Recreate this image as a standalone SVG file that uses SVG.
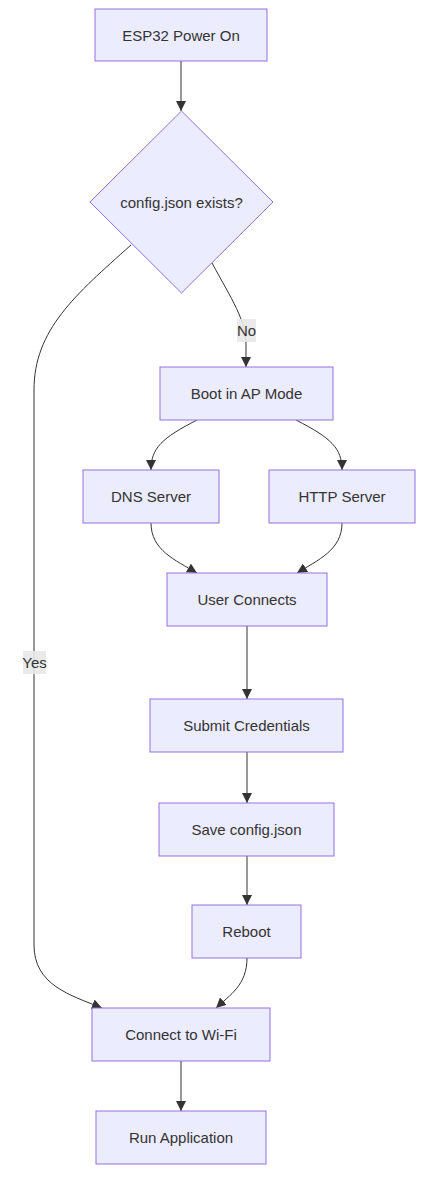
<svg xmlns="http://www.w3.org/2000/svg" width="433" height="1177" viewBox="0 0 433 1177">
<style>
.node rect,.node polygon{fill:#ECECFF;stroke:#9370DB;stroke-width:1}
.node text{font-family:"Trebuchet MS","Liberation Sans",Arial,sans-serif;font-size:15px;fill:#333;text-anchor:middle;dominant-baseline:central}
.edge{fill:none;stroke:#333;stroke-width:1}
.lblbg{fill:#e8e8e8;opacity:0.9}
.lbl{font-family:"Trebuchet MS","Liberation Sans",Arial,sans-serif;font-size:15px;fill:#333;text-anchor:middle;dominant-baseline:central}
</style>
<defs>
<marker id="arr" viewBox="0 0 10 10" refX="10" refY="5" markerWidth="10" markerHeight="10" markerUnits="userSpaceOnUse" orient="auto">
<path d="M0,0 L10,5 L0,10 z" fill="#333"/>
</marker>
</defs>
<rect width="433" height="1177" fill="#fff"/>
<g id="connectors">
<path class="edge" marker-end="url(#arr)" d="M181,61 L181,111"/>
<path class="edge" marker-end="url(#arr)" d="M212,263 C232,300 246,320 246,345 L246,367"/>
<path class="edge" marker-end="url(#arr)" d="M131,245 C75,295 34,330 34,390 L34,945 C34,985 70,995 102,1008"/>
<path class="edge" marker-end="url(#arr)" d="M197,420 C162,438 151,448 151,470"/>
<path class="edge" marker-end="url(#arr)" d="M296,420 C331,438 342,448 342,470"/>
<path class="edge" marker-end="url(#arr)" d="M151,523 C151,550 175,560 197,573"/>
<path class="edge" marker-end="url(#arr)" d="M342,523 C342,550 318,560 297,573"/>
<path class="edge" marker-end="url(#arr)" d="M247,626 L247,699"/>
<path class="edge" marker-end="url(#arr)" d="M247,752 L247,803"/>
<path class="edge" marker-end="url(#arr)" d="M247,856 L247,905"/>
<path class="edge" marker-end="url(#arr)" d="M247,958 C247,985 230,995 216,1008"/>
<path class="edge" marker-end="url(#arr)" d="M181,1061 L181,1111"/>
<rect class="lblbg" x="237" y="319" width="19" height="23"/>
<text class="lbl" x="246.5" y="330.5">No</text>
<rect class="lblbg" x="23" y="651" width="23" height="23"/>
<text class="lbl" x="34.5" y="662.5">Yes</text>
</g>
<g id="start" class="node"><rect x="95" y="9" width="172" height="52"/><text x="181" y="35">ESP32 Power On</text></g>
<g id="check" class="node"><polygon points="181.5,111 273,202 181.5,293 90,202"/><text x="181.5" y="202">config.json exists?</text></g>
<g id="apmode" class="node"><rect x="160" y="367" width="173" height="53"/><text x="246.5" y="393.5">Boot in AP Mode</text></g>
<g id="dns" class="node"><rect x="83" y="470" width="136" height="53"/><text x="151" y="496.5">DNS Server</text></g>
<g id="http" class="node"><rect x="269" y="470" width="146" height="53"/><text x="342" y="496.5">HTTP Server</text></g>
<g id="user" class="node"><rect x="167" y="573" width="160" height="53"/><text x="247" y="599.5">User Connects</text></g>
<g id="submit" class="node"><rect x="150" y="699" width="193" height="53"/><text x="246.5" y="725.5">Submit Credentials</text></g>
<g id="save" class="node"><rect x="159" y="803" width="175" height="53"/><text x="246.5" y="829.5">Save config.json</text></g>
<g id="reboot" class="node"><rect x="192" y="905" width="109" height="53"/><text x="246.5" y="931.5">Reboot</text></g>
<g id="wifi" class="node"><rect x="92" y="1008" width="178" height="53"/><text x="181" y="1034.5">Connect to Wi-Fi</text></g>
<g id="run" class="node"><rect x="96" y="1111" width="170" height="53"/><text x="181" y="1137.5">Run Application</text></g>
</svg>
